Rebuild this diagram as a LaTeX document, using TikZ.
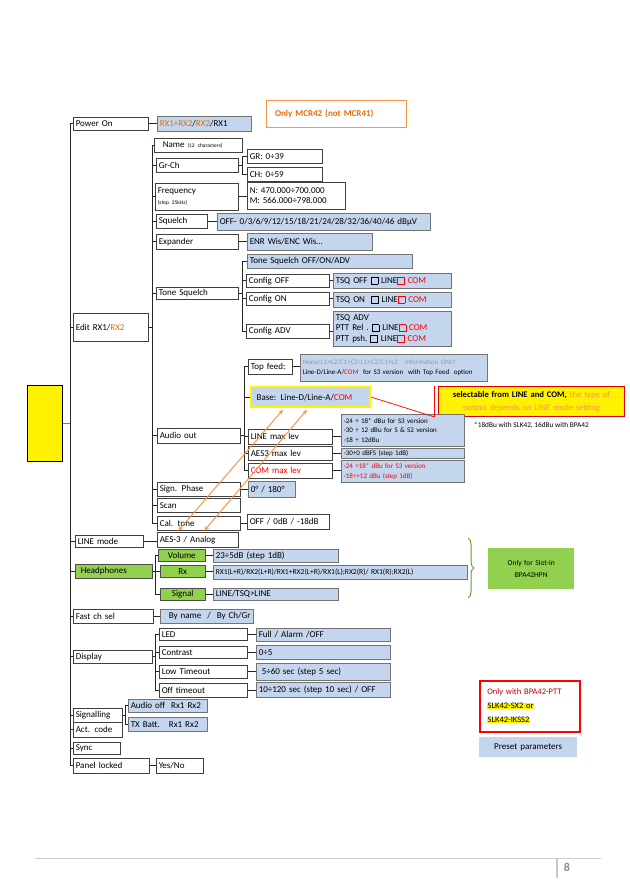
\documentclass[tikz,border=0pt]{standalone}
\usepackage{fontspec}
\setmainfont{Carlito}
\usetikzlibrary{shadows,calc,decorations.pathreplacing,arrows.meta}
\definecolor{bfill}{HTML}{C3D6EE}
\definecolor{gfill}{HTML}{92D050}
\definecolor{ora}{HTML}{E46C0A}
\definecolor{orb}{HTML}{F79646}
\definecolor{dred}{HTML}{C00000}
\definecolor{blc}{HTML}{4F81BD}
\newcommand\bx[7]{%
  \pgfmathsetmacro\bxw{#5-#3}%
  \pgfmathsetmacro\bxh{#6-#4}%
  \pgfmathsetmacro\bxt{#5-#3-5}%
  \node[anchor=north west, minimum width=\bxw pt, minimum height=\bxh pt,
        text width=\bxt pt, inner xsep=2.5pt, inner ysep=0pt, align=left, #2] (#1) at (#3,#4) {#7};}
\newcommand\ckb[1]{{\setlength\fboxsep{0pt}\setlength\fboxrule{0.5pt}\raisebox{-0.5pt}{\fcolorbox{#1}{bfill}{\rule{0pt}{6.5pt}\hspace{6.5pt}}}}}
\newcommand\hlt[1]{{\setlength\fboxsep{0.4pt}\colorbox{yellow}{#1}}}
\newcommand\fsz[2]{\fontsize{#1}{#2}\selectfont}
\newcommand\hc[2]{\draw[conn] (#1.east) -- (#1.east -| #2.west);}
\begin{document}
\begin{tikzpicture}[x=1pt,y=-1pt,font=\fsz{9}{10.5},
  shd/.style={drop shadow={shadow xshift=1pt,shadow yshift=-1pt,fill=black!30}},
  wbox/.style={draw=black!75,fill=white,line width=0.5pt,shd},
  bbox/.style={draw=black!55,fill=bfill,line width=0.5pt,shd},
  gbox/.style={draw=black!70,fill=gfill,line width=0.5pt,shd},
  conn/.style={draw=black!85,line width=0.6pt},
  oarrow/.style={draw=orb,line width=1pt,{Stealth[length=5pt,width=4pt]}-{Stealth[length=5pt,width=4pt]}}]
\useasboundingbox[fill=white] (0,0) rectangle (629,893);

\coordinate (T0) at (70,0);
\coordinate (T1) at (152,0);
\coordinate (FG) at (242,0);
\coordinate (FA) at (244,0);
\coordinate (FH) at (155,0);
\coordinate (FS) at (125,0);

% ---- boxes ----
\bx{pwr}{wbox}{73}{117}{148}{130}{Power On}
\bx{pwrv}{bbox}{157}{116}{251}{131}{\textcolor{ora}{RX1+RX2}/\textcolor{ora}{RX2}/RX1}
\bx{mcr}{draw=orb,line width=1pt,fill=white}{266}{100}{406}{127}{\hspace*{6pt}\textcolor{ora}{\bfseries Only MCR42 (not MCR41)}}

\bx{name}{wbox}{154}{138}{242}{152}{\hspace*{6pt}Name {\fsz{5.5}{6}(12 characters)}}
\bx{grch}{wbox}{156}{158}{238}{172}{Gr-Ch}
\bx{gr}{wbox}{247}{149}{322}{163}{GR: 0÷39}
\bx{ch}{wbox}{247}{167}{322}{181}{CH: 0÷59}
\bx{freq}{wbox}{155}{183}{238}{210}{Frequency\\{\fsz{5.5}{6}(step 25kHz)}}
\bx{freqv}{wbox}{247}{182}{345}{209}{N: 470.000÷700.000\\M: 566.000÷798.000}
\bx{sq}{wbox}{156}{214}{207}{228}{Squelch}
\bx{sqv}{bbox}{217}{213}{430}{230}{OFF- 0/3/6/9/12/15/18/21/24/28/32/36/40/46 dBµV}
\bx{exp}{wbox}{156}{234}{238}{249}{Expander}
\bx{expv}{bbox}{247}{233}{372}{250}{ENR Wis/ENC Wis…}
\bx{tsqa}{bbox}{247}{254}{412}{268}{Tone Squelch OFF/ON/ADV}
\bx{cfoff}{wbox}{246}{274}{329}{287}{Config OFF}
\bx{tsqoff}{bbox}{333}{273}{451}{288}{TSQ OFF \ckb{black} LINE\ckb{red} \textcolor{red}{COM}}
\bx{tsq}{wbox}{156}{287}{238}{299}{Tone Squelch}
\bx{cfon}{wbox}{246}{292}{329}{305}{Config ON}
\bx{tsqon}{bbox}{333}{292}{451}{307}{TSQ ON\ \ \ckb{black} LINE\ckb{red} \textcolor{red}{COM}}
\bx{tsqadv}{bbox,font=\fsz{9}{10.5}}{333}{311}{451}{346}{TSQ ADV\\PTT Rel .\ \ckb{black} LINE\ckb{red} \textcolor{red}{COM}\\PTT psh.\ \ckb{black} LINE\ckb{red} \textcolor{red}{COM}}
\bx{cfadv}{wbox}{246}{324}{329}{338}{Config ADV}
\bx{edit}{wbox}{73}{313}{148}{341}{Edit RX1/\textcolor{ora}{RX2}}

\bx{topf}{wbox}{248}{359}{292}{374}{Top feed:}
\bx{topfv}{bbox,font=\fsz{7}{10.5}}{300}{354}{487}{381}{\textcolor{black!40}{None/L1+L2/C1+C2/L1+C2/C1+L2\quad information ONLY}\\Line-D/Line-A/\textcolor{red}{COM}\ \ for S3 version\ \ with Top Feed\ \ option}
\bx{base}{bbox,draw=yellow,line width=2.2pt}{250}{386}{369}{406}{\hspace*{3pt}Base: Line-D/Line-A/\textcolor{red}{COM}}
\bx{sel}{fill=yellow,draw=red!85!black,line width=0.8pt,align=center,font=\fsz{8.6}{13}}{438}{386}{624}{416}{\textbf{selectable from LINE and COM,} \textcolor{orb}{the type of}\\\textcolor{orb}{output depends on LINE mode setting}}
\node[font=\fsz{7.3}{8},anchor=west,inner sep=0pt] (note) at (474,425) {*18dBu with SLK42, 16dBu with BPA42};
\bx{yel}{fill=yellow,draw=black,line width=0.8pt,shd}{27}{385}{62}{461}{}

\bx{aud}{wbox}{157}{428}{240}{443}{Audio out}
\bx{linel}{wbox}{248}{429}{332}{444}{LINE max lev}
\bx{linev}{bbox,font=\fsz{7}{9.5}}{341}{414}{464}{446}{-24 ÷ 18* dBu for S3 version\\-30 ÷ 12 dBu for S \& S2 version\\-18 ÷ 12dBu}
\bx{aesl}{wbox}{248}{446}{332}{460}{AES3 max lev}
\bx{aesv}{bbox,font=\fsz{7}{8}}{341}{448}{464}{458}{-30÷0 dBFS (step 1dB)}
\bx{coml}{wbox}{248}{463}{332}{478}{\textcolor{red}{COM max lev}}
\bx{comv}{bbox,font=\fsz{7}{10},text=red}{341}{460}{464}{482}{-24 ÷18* dBu for S3 version\\-18÷+12 dBu (step 1dB)}
\bx{sph}{wbox}{157}{482}{240}{496}{Sign. Phase}
\bx{sphv}{bbox}{248}{481}{295}{497}{0° / 180°}
\bx{scan}{wbox}{157}{498}{240}{512}{Scan}
\bx{cal}{wbox}{157}{516}{240}{530}{Cal. tone}
\bx{calv}{wbox}{247}{514}{329}{529}{OFF / 0dB / -18dB}

\bx{lm}{wbox}{75}{535}{143}{547}{LINE mode}
\bx{lmv}{wbox}{157}{532}{238}{547}{AES-3 / Analog}
\bx{vol}{gbox,align=center}{158}{549}{205}{561}{Volume}
\bx{volv}{bbox}{213}{549}{338}{562}{23÷5dB (step 1dB)}
\bx{hp}{gbox}{75}{564}{152}{578}{\hspace*{3pt}Headphones}
\bx{rx}{gbox,align=center}{160}{565}{205}{577}{Rx}
\bx{rxv}{bbox,font=\fsz{7.6}{8}}{213}{565}{467}{579}{RX1(L+R)/RX2(L+R)/RX1+RX2(L+R)/RX1(L);RX2(R)/ RX1(R);RX2(L)}
\bx{sigl}{gbox,align=center}{160}{588}{205}{600}{Signal}
\bx{siglv}{bbox}{213}{588}{338}{600}{LINE/TSQ>LINE}
\coordinate (brT) at (468,538);
\coordinate (brB) at (468,598);
\draw[gfill!75!black,line width=1pt,decorate,decoration={brace,amplitude=6pt}] (brT) -- (brB);
\bx{gonly}{fill=gfill,align=center,font=\fsz{7.5}{11.5}}{488}{548}{574}{589}{Only for Slot-in\\BPA42HPN\\[3pt]}

\bx{fast}{wbox}{73}{609}{153}{623}{Fast ch sel}
\bx{fastv}{bbox}{160}{609}{253}{623}{\hspace*{6pt}By name\ \ /\ \ By Ch/Gr}
\bx{led}{wbox}{159}{628}{247}{640}{LED}
\bx{ledv}{bbox}{256}{628}{390}{641}{Full / Alarm /OFF}
\bx{con}{wbox}{159}{646}{247}{658}{Contrast}
\bx{conv}{bbox}{256}{645}{390}{659}{0÷5}
\bx{disp}{wbox}{73}{650}{152}{663}{Display}
\bx{low}{wbox}{159}{665}{247}{678}{Low Timeout}
\bx{lowv}{bbox}{256}{663}{390}{680}{\hspace*{3pt}5÷60 sec (step 5 sec)}
\bx{off}{wbox}{159}{683}{247}{697}{Off timeout}
\bx{offv}{bbox}{256}{682}{390}{697}{10÷120 sec (step 10 sec) / OFF}
\bx{aoff}{bbox}{128}{699}{207}{712}{Audio off\ \ Rx1 Rx2}
\bx{sigg}{wbox}{73}{708}{122}{722}{Signalling}
\bx{txb}{bbox}{128}{717}{207}{731}{TX Batt.\ \ \ Rx1 Rx2}
\bx{act}{wbox}{73}{722}{122}{737}{Act. code}
\bx{sync}{wbox}{73}{742}{120}{754}{Sync}
\bx{pnl}{wbox}{73}{758}{149}{773}{Panel locked}
\bx{pnlv}{wbox}{156}{758}{203}{773}{Yes/No}

\bx{onlyw}{draw=red,line width=1.5pt,fill=white,font=\fsz{8.5}{14}}{479}{680}{579}{731}{\hspace*{5pt}\textcolor{dred}{Only with BPA42-PTT}\\\hspace*{5pt}\hlt{SLK42-SX2 or}\\\hspace*{5pt}\hlt{SLK42-IKSS2}}
\bx{preset}{fill=bfill,align=center}{479}{737}{577}{757}{Preset parameters}

% ---- connectors ----
\draw[conn] (pwr.west -| T0) -- (pnl.west -| T0);
\foreach \n in {pwr,edit,lm,hp,fast,disp,sigg,act,sync,pnl} \draw[conn] (\n.west) -- (\n.west -| T0);
\draw[draw=blc,line width=0.6pt] (yel.east) -- (yel.east -| T0);
\hc{pwr}{pwrv}
\draw[conn] (edit.east) -- (edit.east -| T1);
\draw[conn] (name.west -| T1) -- (cal.west -| T1);
\foreach \n in {name,grch,freq,sq,exp,tsq,aud,sph,scan,cal} \draw[conn] (\n.west) -- (\n.west -| T1);
\draw[conn] (grch.east) -- (grch.east -| FG);
\draw[conn] (gr.west -| FG) -- (ch.west -| FG);
\foreach \n in {gr,ch} \draw[conn] (\n.west) -- (\n.west -| FG);
\hc{freq}{freqv}
\hc{sq}{sqv}
\hc{exp}{expv}
\draw[conn] (tsq.east) -- (tsq.east -| FG);
\draw[conn] (tsqa.west -| FG) -- (cfadv.west -| FG);
\foreach \n in {tsqa,cfoff,cfon,cfadv} \draw[conn] (\n.west) -- (\n.west -| FG);
\hc{cfoff}{tsqoff}
\hc{cfon}{tsqon}
\hc{cfadv}{tsqadv}
\draw[conn] (aud.east) -- (aud.east -| FA);
\draw[conn] (topf.west -| FA) -- (coml.west -| FA);
\foreach \n in {topf,base,linel,aesl,coml} \draw[conn] (\n.west) -- (\n.west -| FA);
\hc{topf}{topfv}
\hc{linel}{linev}
\hc{aesl}{aesv}
\hc{coml}{comv}
\hc{sph}{sphv}
\hc{cal}{calv}
\hc{lm}{lmv}
\draw[conn] (hp.east) -- (hp.east -| FH);
\draw[conn] (vol.west -| FH) -- (sigl.west -| FH);
\foreach \n in {vol,rx,sigl} \draw[conn] (\n.west) -- (\n.west -| FH);
\hc{vol}{volv}
\hc{rx}{rxv}
\hc{sigl}{siglv}
\hc{fast}{fastv}
\draw[conn] (disp.east) -- (disp.east -| FH);
\draw[conn] (led.west -| FH) -- (off.west -| FH);
\foreach \n in {led,con,low,off} \draw[conn] (\n.west) -- (\n.west -| FH);
\hc{led}{ledv}
\hc{con}{conv}
\hc{low}{lowv}
\hc{off}{offv}
\draw[conn] (sigg.east) -- (sigg.east -| FS);
\draw[conn] (aoff.west -| FS) -- (txb.west -| FS);
\foreach \n in {aoff,txb} \draw[conn] (\n.west) -- (\n.west -| FS);
\hc{pnl}{pnlv}

% red callout
\coordinate (barT) at ($(sel.north west)+(-4,0)$);
\coordinate (barB) at ($(sel.south west)+(-4,0)$);
\draw[red,line width=0.7pt] (barT) -- (barB);
\draw[red,line width=0.7pt] (base.east) -- (barB);

% orange double arrows
\draw[oarrow] ($(lmv.north west)+(21,-1)$) -- ($(base.south west)+(33,1.5)$);
\draw[oarrow] ($(lmv.north west)+(47,-1)$) -- ($(base.south west)+(57,1.5)$);

% footer
\coordinate (fl1) at (35,858);
\coordinate (fl2) at (601,858);
\coordinate (fb1) at (557,858);
\coordinate (fb2) at (557,878);
\draw[black!20,line width=0.7pt] (fl1) -- (fl2);
\draw[black!22,line width=2pt] (fb1) -- (fb2);
\node[text=black!45,font=\fsz{12}{12}\bfseries] (pg) at (567,867) {8};
\end{tikzpicture}
\end{document}
